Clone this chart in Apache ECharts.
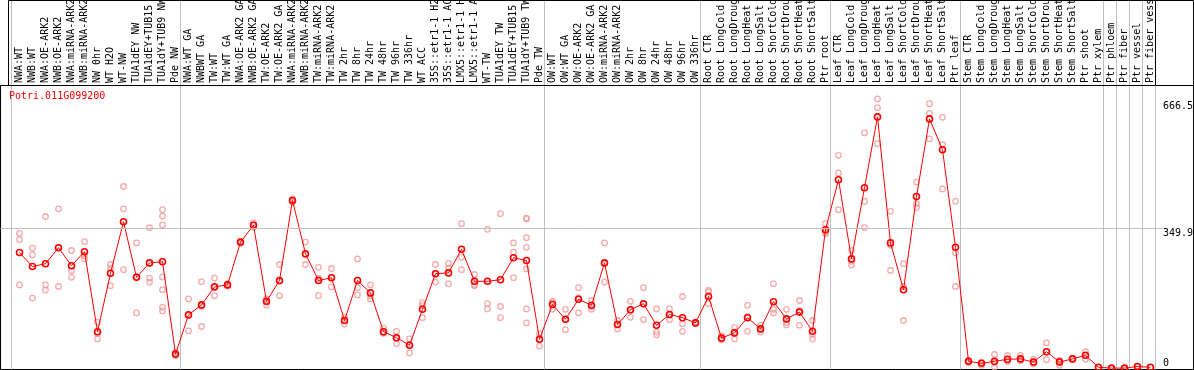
<!DOCTYPE html>
<html><head><meta charset="utf-8">
<script src="https://cdn.jsdelivr.net/npm/echarts@6/dist/echarts.min.js"></script>
<style>html,body{margin:0;padding:0;background:#fff}#c{width:1194px;height:370px}</style>
</head><body><div id="c"></div>
<script>
const geneName = 'Potri.011G099200';
const categories = ["NWA:WT","NWB:WT","NWA:OE-ARK2","NWB:OE-ARK2","NWA:miRNA-ARK2","NWB:miRNA-ARK2","NW 0hr","WT H2O","WT-NW","TUA1dEY NW","TUA1dEY+TUB15","TUA1dY+TUB9 NW","Pde NW",
"NWA:WT GA","NWBWT GA","TW:WT","TW:WT GA","NWA:OE-ARK2 GA","NWB:OE-ARK2 GA","TW:OE-ARK2","TW:OE-ARK2 GA","NWA:miRNA-ARK2","NWB:miRNA-ARK2","TW:miRNA-ARK2","TW:miRNA-ARK2","TW 2hr","TW 8hr","TW 24hr","TW 48hr","TW 96hr","TW 336hr","WT ACC","35S::etr1-1 H2","35S::etr1-1 AC","LMX5::etr1-1 H","LMX5::etr1-1 A","WT-TW","TUA1dEY TW","TUA1dEY+TUB15","TUA1dY+TUB9 TW","Pde TW",
"OW:WT","OW:WT GA","OW:OE-ARK2","OW:OE-ARK2 GA","OW:miRNA-ARK2","OW:miRNA-ARK2","OW 2hr","OW 8hr","OW 24hr","OW 48hr","OW 96hr","OW 336hr",
"Root CTR","Root LongCold","Root LongDroug","Root LongHeat","Root LongSalt","Root ShortCold","Root ShortDrou","Root ShortHeat","Root ShortSalt","Ptr root",
"Leaf CTR","Leaf LongCold","Leaf LongDroug","Leaf LongHeat","Leaf LongSalt","Leaf ShortCold","Leaf ShortDrou","Leaf ShortHeat","Leaf ShortSalt","Ptr leaf",
"Stem CTR","Stem LongCold","Stem LongDroug","Stem LongHeat","Stem LongSalt","Stem ShortCold","Stem ShortDrou","Stem ShortHeat","Stem ShortSalt","Ptr shoot",
"Ptr xylem","Ptr phloem","Ptr fiber","Ptr vessel","Ptr fiber vess"];

const means = [290,255,262,302,257,292,92,238,367,228,264,267,36,
134,159,204,209,316,358,168,220,420,287,220,227,120,220,189,92,77,58,148,237,239,298,218,218,222,277,270,73,
160,123,173,158,264,110,147,162,108,135,127,114,
180,76,89,127,99,167,124,141,93,347,
472,274,452,629,314,197,430,624,547,303,
18,13,18,23,24,16,42,16,24,33,
3,1,1,5,3];

const replicates = [
[338,322,209],[301,284,176],[380,209,196],[399,302,205],[295,245,228],[317,282,274],[116,87,74],[260,251,207],[455,399,247],[314,229,139],[352,226,216],[397,381,359,229,197,153,144],[40,36,32],
[174,134,94],[217,155,105],[226,204,182],[212,209,206],[318,315,313],[364,359,353],[174,166,158],[260,218,182],[424,420,416],[316,284,260],[253,225,182],[250,227,204],[128,120,111],[274,202,184],[209,181,174],[101,89,88],[93,76,62],[74,60,39],[164,157,127],[260,236,216],[263,251,212],[362,278,247],[235,209,207],[348,162,149],[387,155,127],[314,291,227],[376,374,327,303,249,149,114],[87,74,56],
[168,165,148],[148,123,97],[202,177,139],[170,155,148],[314,262,216],[120,111,99],[168,145,128],[202,161,122],[149,91,84],[149,134,122],[180,112,93],[116,114,112],
[195,191,162],[82,74,72],[102,91,74],[158,130,93],[108,99,91],[212,148,139],[148,115,109],[170,145,108],[120,85,74],[362,341,337],
[533,489,397],[295,268,259],[589,418,352],[674,652,562],[393,308,245],[262,205,120],[466,412,403],[662,638,574],[628,560,449],[418,289,205],
[20,17,15],[15,13,8],[35,15,3],[33,18,18],[33,20,20],[23,15,11],[64,41,22],[20,20,8],[25,24,22],[42,33,23],
[3],[1],[1],[6,4],[3]];

const yTickLabels = [349.9, 666.5];
const yZeroLabel = [0];
const gridLineValue = 349.9;
const groupStarts = [0, 13, 41, 53, 63, 73, 84, 85, 86, 87];

const FONT = 'DejaVu Sans Mono';
const Y_MIN = -2.5;
const PX_PER_UNIT = 0.4;

const repData = [];
replicates.forEach((arr, i) => arr.forEach(v => repData.push([i, v])));

const chart = echarts.init(document.getElementById('c'), null, {renderer: 'canvas'});
const option = {
  animation: false,
  backgroundColor: '#fff',
  title: {
    text: geneName, left: 9, top: 91, padding: 0,
    textStyle: {fontFamily: FONT, fontSize: 10, fontWeight: 'normal', color: '#ff0000'}
  },
  grid: [
    {left: 13, width: 1144, top: 0, bottom: 0.5, outerBoundsMode: 'none', containLabel: false},
    {left: 0.5, right: 0.5, top: 85.5, bottom: 0.5, show: true, borderColor: '#000', borderWidth: 1, backgroundColor: 'transparent', outerBoundsMode: 'none', containLabel: false},
    {left: 11, width: 1144, top: 0, bottom: 0.5, outerBoundsMode: 'none', containLabel: false}
  ],
  xAxis: [
    {gridIndex: 0, type: 'category', data: categories, position: 'top', offset: -85, boundaryGap: true,
     axisLine: {show: false}, axisTick: {show: false}, splitLine: {show: false},
     axisLabel: {interval: 0, rotate: 90, margin: 2, fontFamily: FONT, fontSize: 10, color: '#000'}},
    {gridIndex: 1, type: 'value', min: 0, max: 1193, show: false},
    {gridIndex: 2, type: 'category', data: categories, boundaryGap: true,
     axisLine: {show: false}, axisTick: {show: false}, axisLabel: {show: false},
     splitLine: {show: true, interval: (idx) => groupStarts.indexOf(idx) >= 0, lineStyle: {color: '#c0c0c0', width: 1}}}
  ],
  yAxis: [
    {gridIndex: 0, type: 'value', min: Y_MIN, max: Y_MIN + 369.5 / PX_PER_UNIT, show: false},
    {gridIndex: 1, type: 'value', min: Y_MIN, max: Y_MIN + 284 / PX_PER_UNIT, position: 'right',
     axisLine: {show: false}, axisTick: {show: false}, splitLine: {show: false},
     axisLabel: {inside: true, align: 'left', verticalAlign: 'top', margin: 30.5, customValues: yTickLabels,
       formatter: v => String(v), fontFamily: FONT, fontSize: 10, color: '#000'}},
    {gridIndex: 1, type: 'value', min: Y_MIN, max: Y_MIN + 284 / PX_PER_UNIT, position: 'right',
     axisLine: {show: false}, axisTick: {show: false}, splitLine: {show: false},
     axisLabel: {inside: true, align: 'left', verticalAlign: 'bottom', margin: 30.5, customValues: yZeroLabel,
       formatter: v => String(v), fontFamily: FONT, fontSize: 10, color: '#000'}},
    {gridIndex: 2, type: 'value', min: 0, max: 1, show: false}
  ],
  graphic: [
    {type: 'rect', z: 100, silent: true, shape: {x: 8.5, y: 0.5, width: 1147, height: 85},
     style: {fill: 'none', stroke: '#000', lineWidth: 1}},
    {type: 'polyline', z: 100, silent: true, shape: {points: [[1155.5, 0.5], [1193.5, 0.5], [1193.5, 85.5]]},
     style: {fill: 'none', stroke: '#000', lineWidth: 1}}
  ],
  series: [
    {type: 'line', xAxisIndex: 1, yAxisIndex: 1, data: [], silent: true,
     markLine: {silent: true, symbol: ['none', 'none'], label: {show: false},
       lineStyle: {color: '#c0c0c0', type: 'solid', width: 1},
       data: [[{coord: [0, gridLineValue]}, {coord: [1162, gridLineValue]}]]}},
    {name: 'replicates', type: 'scatter', xAxisIndex: 0, yAxisIndex: 0, data: repData, z: 3,
     symbol: 'circle', symbolSize: 5.5,
     itemStyle: {color: 'rgba(0,0,0,0)', borderColor: '#f09696', borderWidth: 1.3}},
    {name: geneName, type: 'line', xAxisIndex: 0, yAxisIndex: 0, data: means, z: 4,
     showSymbol: true, showAllSymbol: true, symbol: 'circle', symbolSize: 6,
     lineStyle: {color: '#ff0000', width: 1},
     itemStyle: {color: 'rgba(0,0,0,0)', borderColor: '#ff0000', borderWidth: 1.6}}
  ]
};
chart.setOption(option);
</script></body></html>
